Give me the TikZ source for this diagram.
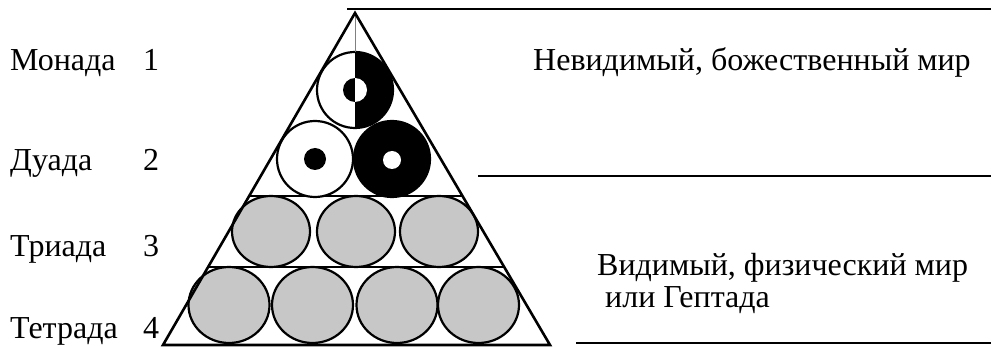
\documentclass[tikz,border=0pt]{standalone}
\usepackage{fontspec}
\setmainfont{Liberation Serif}
\newfontfamily\timesfont{Liberation Serif}
\begin{document}
\begin{tikzpicture}[x=1pt,y=-1pt,
  lbl/.style={anchor=base west, inner sep=0pt, font=\timesfont\fontsize{32}{38}\selectfont},
  edge/.style={line width=2.6pt, line join=miter},
  rim/.style={line width=2.2pt},
  rule/.style={line width=1.8pt},
  ball/.style={rim, fill=ballgray}]
\definecolor{ballgray}{gray}{0.78}
\useasboundingbox (0,0) rectangle (996,347);
\coordinate (A) at (355,13);
\coordinate (L) at (163,345);
\coordinate (R) at (550,345);
% gray balls, row 3 and row 4
\foreach \x in {271,356,439}
  \draw[ball] (\x,231.5) ellipse[x radius=39, y radius=35.5];
\foreach \x in {229,312.5,397,478.5}
  \draw[ball] (\x,305) ellipse[x radius=40.5, y radius=38];
% divider lines inside the triangle
\begin{scope}
  \clip (A) -- (L) -- (R) -- cycle;
  \draw[edge] (0,196) -- (996,196);
  \draw[rim] (0,267) -- (996,267);
\end{scope}
% dyad
\draw[rim, fill=white] (315,159) circle[radius=38];
\fill[black] (315,159) circle[radius=11];
\draw[rim, fill=black] (392,159) circle[radius=38];
\fill[white] (392,160) circle[radius=9];
% monad
\fill[white] (355,90) circle[radius=38];
\fill[black] (355,52) arc[start angle=-90, end angle=90, radius=38] -- cycle;
\draw[rim] (355,90) circle[radius=38];
\fill[black] (355,78) arc[start angle=-90, end angle=-270, radius=12] -- cycle;
\fill[white] (355,78) arc[start angle=-90, end angle=90, radius=12] -- cycle;
\draw[gray, line width=0.9pt] (A) -- (355,52);
% triangle
\draw[edge] (A) -- (L) -- (R) -- cycle;
% rules on the right
\coordinate (r1a) at (347,9);  \coordinate (r1b) at (991,9);
\coordinate (r2a) at (478,176); \coordinate (r2b) at (991,176);
\coordinate (r3a) at (576,343); \coordinate (r3b) at (991,343);
\draw[rule] (r1a) -- (r1b);
\draw[rule] (r2a) -- (r2b);
\draw[rule] (r3a) -- (r3b);
% labels
\node[lbl] (mon) at (10,71) {Монада};
\node[lbl] (n1)  at (143,71) {1};
\node[lbl] (duo) at (10,171) {Дуада};
\node[lbl] (n2)  at (143,171) {2};
\node[lbl] (tri) at (10,257) {Триада};
\node[lbl] (n3)  at (143,257) {3};
\node[lbl] (tet) at (10,338) {Тетрада};
\node[lbl] (n4)  at (143,338) {4};
\node[lbl] (inv) at (533,71) {Невидимый, божественный мир};
\node[lbl] (vis) at (597,276) {Видимый, физический мир};
\node[lbl] (hep) at (605,308) {или Гептада};
\end{tikzpicture}
\end{document}
